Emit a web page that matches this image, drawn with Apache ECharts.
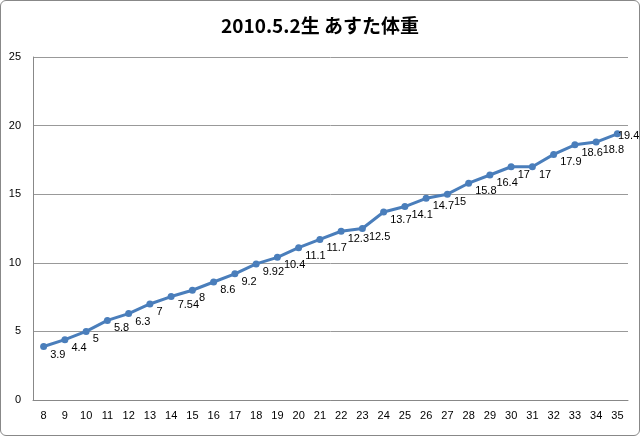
<!DOCTYPE html>
<html><head><meta charset="utf-8">
<script src="https://cdn.jsdelivr.net/npm/echarts@6/dist/echarts.min.js"></script>
<style>body{margin:0}#c{width:640px;height:436px;box-sizing:border-box;border:1px solid #888;border-radius:6px}</style>
</head><body><div id="c"></div>
<script>
const categories=['8','9','10','11','12','13','14','15','16','17','18','19','20','21','22','23','24','25','26','27','28','29','30','31','32','33','34','35'];
const weights=[3.9,4.4,5,5.8,6.3,7,7.54,8,8.6,9.2,9.92,10.4,11.1,11.7,12.3,12.5,13.7,14.1,14.7,15,15.8,16.4,17,17,17.9,18.6,18.8,19.4];
const yTicks={min:0,max:25,interval:5};
const data=weights.map((v,i)=>i===weights.length-1?{value:v,label:{offset:[-8,2]}}:v);
const chart=echarts.init(document.getElementById('c'));
chart.setOption({
 animation:false,
 title:{text:'2010.5.2生 あすた体重',left:'center',top:10,textStyle:{fontFamily:'Noto Sans CJK JP',fontSize:19,fontWeight:'bold',color:'#000'}},
 grid:{left:32,right:11,top:56,bottom:35},
 xAxis:{type:'category',data:categories,boundaryGap:true,axisTick:{show:false},axisLine:{lineStyle:{color:'#888'}},axisLabel:{color:'#000',fontSize:11,margin:10,interval:0},splitLine:{show:false}},
 yAxis:{type:'value',min:yTicks.min,max:yTicks.max,interval:yTicks.interval,axisLine:{show:true,lineStyle:{color:'#888'}},axisLabel:{color:'#000',fontSize:11,margin:12},splitLine:{lineStyle:{color:'#999'}}},
 series:[{type:'line',data:data,symbol:'circle',symbolSize:7,itemStyle:{color:'#4a7ebb'},lineStyle:{color:'#4a7ebb',width:3},
  label:{show:true,position:'right',offset:[-2,8],color:'#000',fontSize:11}}]
});
</script></body></html>
